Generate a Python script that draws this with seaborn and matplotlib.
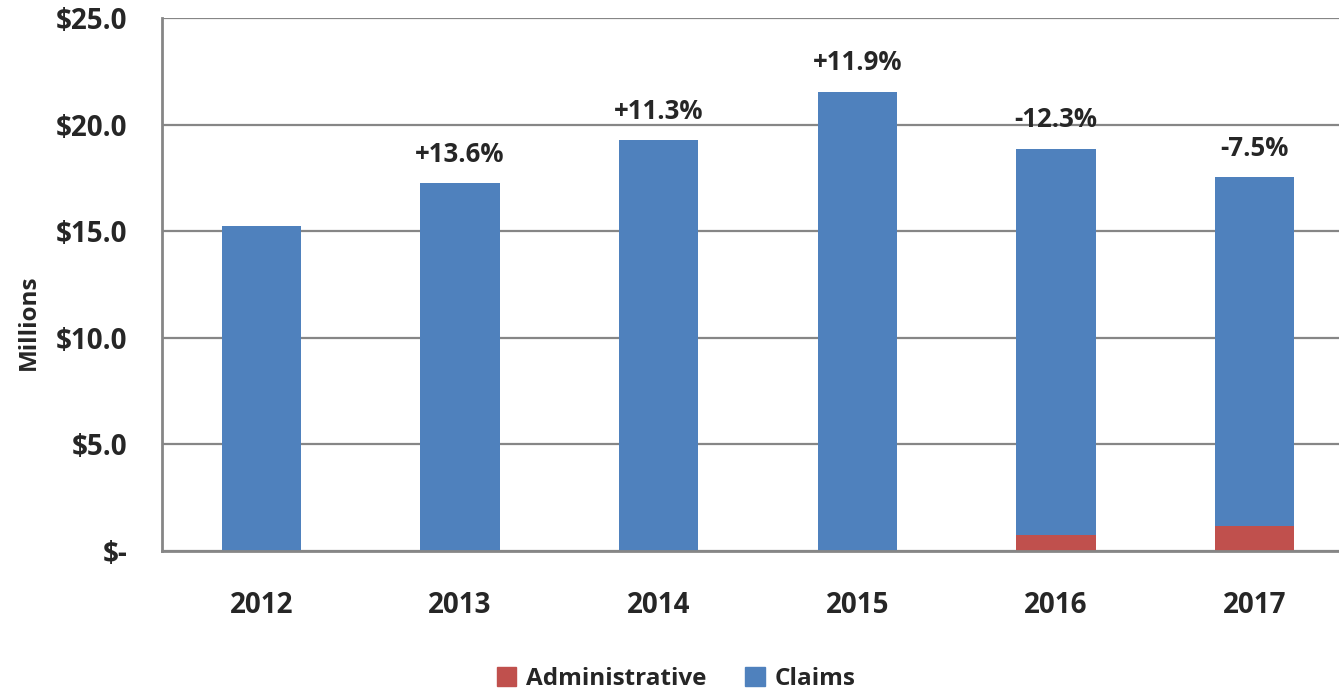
import matplotlib
matplotlib.use("Agg")
import matplotlib.pyplot as plt
import seaborn as sns
import pandas as pd
from matplotlib.patches import Patch

years = ["2012", "2013", "2014", "2015", "2016", "2017"]
claims = [15.25, 17.25, 19.28, 21.55, 18.1, 16.35]
admin = [0.0, 0.0, 0.0, 0.0, 0.77, 1.17]
changes = ["", "+13.6%", "+11.3%", "+11.9%", "-12.3%", "-7.5%"]
yticks = [0, 5, 10, 15, 20, 25]
ytick_labels = ["$-", "$5.0", "$10.0", "$15.0", "$20.0", "$25.0"]

BLUE = "#4F81BD"
RED = "#C0504D"
GRAY = "#868686"

sns.set_theme(style="white")
plt.rcParams["font.family"] = ["Open Sans", "DejaVu Sans"]
plt.rcParams["font.weight"] = "bold"

df = pd.DataFrame({"year": years, "claims": claims, "admin": admin})
df["total"] = df["claims"] + df["admin"]

fig = plt.figure(figsize=(13.39, 6.93), dpi=100)
ax = fig.add_axes([162 / 1339, 1 - 551 / 693, (1354 - 162) / 1339, (551 - 18) / 693])

sns.barplot(data=df, x="year", y="total", color=BLUE, width=0.40, ax=ax,
            saturation=1, linewidth=0)
sns.barplot(data=df, x="year", y="admin", color=RED, width=0.40, ax=ax,
            saturation=1, linewidth=0)

ax.set_ylim(0, 25)
ax.set_xlim(-0.5, 5.5)
ax.set_yticks(yticks)
ax.set_yticklabels(ytick_labels, fontsize=20, fontweight="bold")
ax.yaxis.grid(True, color=GRAY, linewidth=1.6)
ax.set_axisbelow(True)

ax.set_xticks(range(len(years)))
ax.set_xticklabels(years, fontsize=20, fontweight="bold")
ax.tick_params(axis="x", which="major", length=0, pad=29)
ax.set_xticks([i + 0.5 for i in range(len(years) - 1)], minor=True)
ax.tick_params(axis="x", which="minor", length=9, width=1.6, color=GRAY, direction="out")
ax.tick_params(axis="y", which="major", length=7, width=1.6, color=GRAY, direction="out", pad=18)

for s in ["top", "right"]:
    ax.spines[s].set_visible(False)
for s in ["left", "bottom"]:
    ax.spines[s].set_color(GRAY)
    ax.spines[s].set_linewidth(2)

ax.set_xlabel("")
ax.set_ylabel("Millions", fontsize=17.5, fontweight="bold")
ax.yaxis.set_label_coords(-0.1015, 0.43)

for i, (t, lab) in enumerate(zip(df["total"], changes)):
    if lab:
        ax.annotate(lab, (i, t), xytext=(0, 11), textcoords="offset points",
                    ha="center", va="bottom", fontsize=18.5, fontweight="bold")

handles = [Patch(color=RED, label="Administrative"), Patch(color=BLUE, label="Claims")]
fig.legend(handles=handles, loc="center", bbox_to_anchor=(676 / 1339, 1 - 679 / 693),
           ncol=2, frameon=False, handlelength=0.8, handleheight=0.8,
           columnspacing=1.6, handletextpad=0.4, borderpad=0.2,
           prop={"weight": "bold", "size": 17.5})

fig.savefig("out.png", dpi=100)
